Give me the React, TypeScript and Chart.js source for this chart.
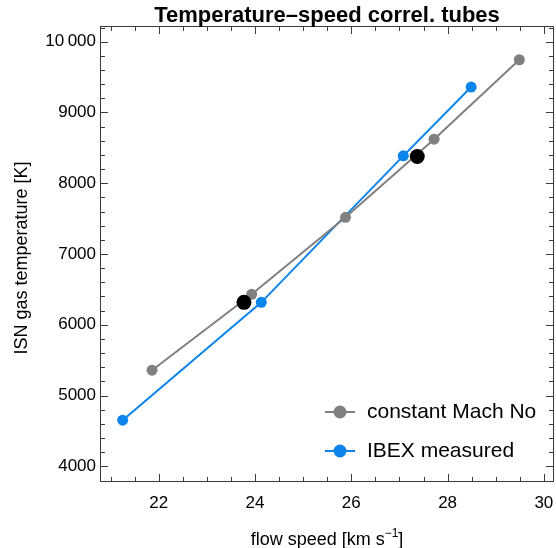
import React, { useEffect, useRef } from "react";
import { Chart, registerables } from "chart.js";

Chart.register(...registerables);

// ---- data ----
const machSpeed = [21.86, 23.93, 25.88, 27.72, 29.49];
const machTemp = [5358, 6430, 7519, 8623, 9745];
const ibexSpeed = [21.25, 24.13, 27.08, 28.49];
const ibexTemp = [4651, 6317, 8387, 9359];
const markSpeed = [23.77, 27.37];
const markTemp = [6317, 8377];

const xTicks = [22, 24, 26, 28, 30];
const yTicks = [4000, 5000, 6000, 7000, 8000, 9000, 10000];
const seriesLabels = ["constant Mach No", "IBEX measured"];
const titleText = "Temperature\u2013speed correl. tubes";
const xTitleMain = "flow speed [km s";
const xTitleSup = "\u22121";
const xTitleEnd = "]";
const yTitle = "ISN gas temperature [K]";

const GRAY = "#808080";
const BLUE = "#0b84eb";
const FAMILY = "'Liberation Sans', Arial, Helvetica, sans-serif";

const X_MIN = 20.8;
const X_MAX = 30.19;
const Y_MIN = 3792;
const Y_MAX = 10208;

const framePlugin = {
  id: "frameDecor",
  afterDatasetsDraw(chart: any) {
    const { ctx, chartArea } = chart;
    const { left, right, top, bottom } = chartArea;
    const xs = chart.scales.x;
    const ys = chart.scales.y;
    ctx.save();
    ctx.strokeStyle = "#3c3c3c";
    ctx.lineWidth = 1;
    ctx.strokeRect(left - 0.5, top - 0.5, right - left + 1, bottom - top + 1);
    ctx.beginPath();
    for (let v = 21; v <= 30.001; v += 0.5) {
      const major = xTicks.some((t) => Math.abs(t - v) < 1e-6);
      const len = major ? 7 : 4;
      const px = Math.round(xs.getPixelForValue(v)) + 0.5;
      if (px < left + 1 || px > right - 1) continue;
      ctx.moveTo(px, bottom);
      ctx.lineTo(px, bottom - len);
      ctx.moveTo(px, top);
      ctx.lineTo(px, top + len);
    }
    for (let v = 3800; v <= 10200; v += 200) {
      const major = yTicks.includes(v);
      const len = major ? 7 : 4;
      const py = Math.round(ys.getPixelForValue(v)) + 0.5;
      if (py < top + 1 || py > bottom - 1) continue;
      ctx.moveTo(left, py);
      ctx.lineTo(left + len, py);
      ctx.moveTo(right, py);
      ctx.lineTo(right - len, py);
    }
    ctx.stroke();
    ctx.restore();
  },
  afterDraw(chart: any) {
    const { ctx, chartArea } = chart;
    const { left, right, top, bottom } = chartArea;
    const cx = (left + right) / 2;
    ctx.save();
    ctx.fillStyle = "#000";
    ctx.font = `bold 22px ${FAMILY}`;
    ctx.textAlign = "center";
    ctx.textBaseline = "alphabetic";
    ctx.fillText(titleText, cx, 22);

    ctx.font = `18px ${FAMILY}`;
    const wMain = ctx.measureText(xTitleMain).width;
    ctx.font = `12px ${FAMILY}`;
    const wSup = ctx.measureText(xTitleSup).width;
    ctx.font = `18px ${FAMILY}`;
    const wEnd = ctx.measureText(xTitleEnd).width;
    const total = wMain + wSup + wEnd;
    const x0 = cx - total / 2;
    const by = 545;
    ctx.textAlign = "left";
    ctx.fillText(xTitleMain, x0, by);
    ctx.font = `12px ${FAMILY}`;
    ctx.fillText(xTitleSup, x0 + wMain, by - 8);
    ctx.font = `18px ${FAMILY}`;
    ctx.fillText(xTitleEnd, x0 + wMain + wSup, by);

    ctx.save();
    ctx.translate(27, (top + bottom) / 2 + 4);
    ctx.rotate(-Math.PI / 2);
    ctx.textAlign = "center";
    ctx.font = `18px ${FAMILY}`;
    ctx.fillText(yTitle, 0, 0);
    ctx.restore();

    const items = [
      { label: seriesLabels[0], color: GRAY, y: 412 },
      { label: seriesLabels[1], color: BLUE, y: 451 },
    ];
    items.forEach((it) => {
      ctx.strokeStyle = it.color;
      ctx.lineWidth = 2;
      ctx.beginPath();
      ctx.moveTo(325, it.y);
      ctx.lineTo(355, it.y);
      ctx.stroke();
      ctx.fillStyle = it.color;
      ctx.beginPath();
      ctx.arc(340, it.y, 6.5, 0, Math.PI * 2);
      ctx.fill();
      ctx.fillStyle = "#000";
      ctx.font = `21px ${FAMILY}`;
      ctx.textAlign = "left";
      ctx.textBaseline = "middle";
      ctx.fillText(it.label, 367, it.y);
    });
    ctx.restore();
  },
};

export default function App() {
  const ref = useRef<HTMLCanvasElement | null>(null);
  useEffect(() => {
    if (!ref.current) return;
    const chart = new Chart(ref.current, {
      type: "scatter",
      data: {
        datasets: [
          {
            label: "marks",
            data: markSpeed.map((x, i) => ({ x, y: markTemp[i] })),
            showLine: false,
            pointRadius: 7.5,
            pointBackgroundColor: "#000",
            pointBorderWidth: 0,
            order: 0,
          },
          {
            label: seriesLabels[0],
            data: machSpeed.map((x, i) => ({ x, y: machTemp[i] })),
            showLine: true,
            borderColor: GRAY,
            backgroundColor: GRAY,
            borderWidth: 2,
            pointRadius: 5.5,
            pointBackgroundColor: GRAY,
            pointBorderWidth: 0,
            order: 1,
          },
          {
            label: seriesLabels[1],
            data: ibexSpeed.map((x, i) => ({ x, y: ibexTemp[i] })),
            showLine: true,
            borderColor: BLUE,
            backgroundColor: BLUE,
            borderWidth: 2,
            pointRadius: 5.5,
            pointBackgroundColor: BLUE,
            pointBorderWidth: 0,
            order: 2,
          },
        ],
      },
      options: {
        responsive: false,
        animation: false,
        devicePixelRatio: 1,
        events: [],
        layout: { autoPadding: false, padding: { left: 0, top: 27, right: 3, bottom: 0 } },
        plugins: {
          legend: { display: false },
          tooltip: { enabled: false },
          title: { display: false },
        },
        scales: {
          x: {
            type: "linear",
            min: X_MIN,
            max: X_MAX,
            afterBuildTicks: (s: any) => {
              s.ticks = xTicks.map((v) => ({ value: v }));
            },
            afterFit: (s: any) => {
              s.height = 67;
              s.paddingLeft = 0;
              s.paddingRight = 0;
            },
            grid: { display: false, drawTicks: false },
            border: { display: false },
            ticks: {
              color: "#000",
              font: { size: 17, family: FAMILY },
              padding: 12,
              maxRotation: 0,
              autoSkip: false,
            },
          },
          y: {
            type: "linear",
            min: Y_MIN,
            max: Y_MAX,
            afterBuildTicks: (s: any) => {
              s.ticks = yTicks.map((v) => ({ value: v }));
            },
            afterFit: (s: any) => {
              s.width = 101;
              s.paddingTop = 0;
              s.paddingBottom = 0;
            },
            grid: { display: false, drawTicks: false },
            border: { display: false },
            ticks: {
              color: "#000",
              font: { size: 17, family: FAMILY },
              padding: 5,
              autoSkip: false,
              callback: (v: any) => (v === 10000 ? "10\u2009000" : String(v)),
            },
          },
        },
      },
      plugins: [framePlugin],
    });
    return () => chart.destroy();
  }, []);
  return (
    <div style={{ position: "absolute", left: 0, top: 0, width: 556, height: 548, background: "#fff" }}>
      <canvas ref={ref} width={556} height={548} />
    </div>
  );
}
